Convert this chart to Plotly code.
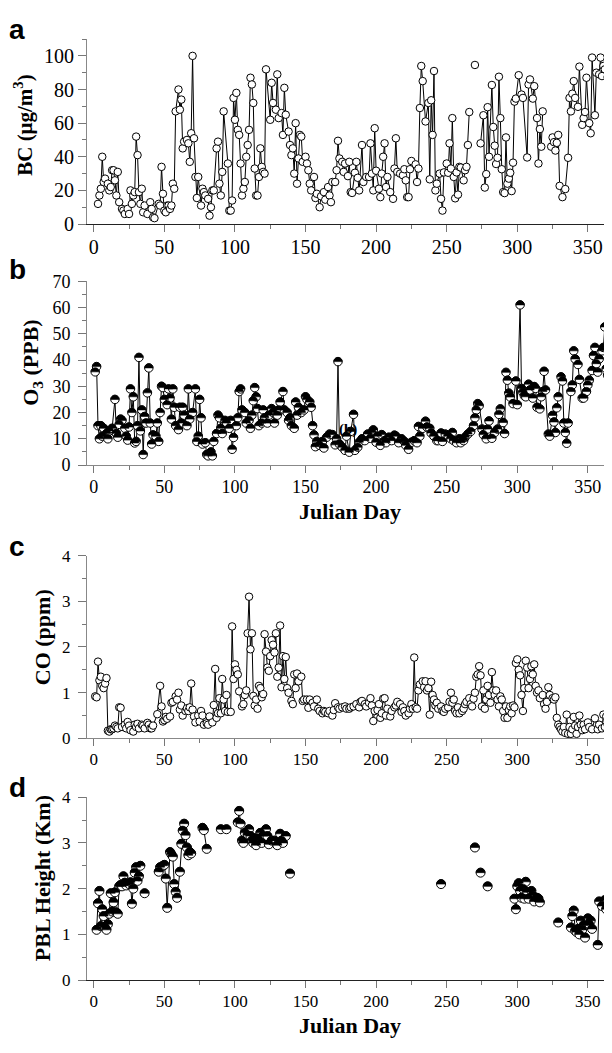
import plotly.graph_objects as go

# ---------------- data ----------------
# None entries mark breaks in the connecting line
bc_day = [3, 4, 5, 6, 7, 8, 10, 11, 12, 13, 14, 15, 16, 17, 18, 20, 21, 22, 24, 25,
          26, 27, 28, 29, 30, 31, 32, 33, 34, 35, 36, 38, 40, 41, 42, 43, 46, 47, 48, 49,
          50, 51, 52, 53, 54, 55, 56, 57, 58, 60, 61, 62, 63, 64, 66, 67, 68, 69, 70, 71,
          72, 73, 74, 76, 77, 78, 79, 81, 82, 83, 84, 85, 87, 88, 89, 90, 91, 92, 95, 96,
          97, 98, 99, 100, 101, 102, 103, 104, 105, 106, 107, 108, 109, 110, 111, 112, 113, 114, 115, 116,
          117, 118, 119, 120, 121, 122, 125, 126, 127, 129, 130, 131, 133, 134, 135, 136, 138, 139, 140, 141,
          142, 143, 144, 145, 146, 147, 148, 150, 151, 152, 153, 154, 156, 157, 158, 160, 161, 163, 164, 166,
          167, 168, 169, 171, 172, 173, 174, 176, 177, 178, 180, 181, 182, 183, 185, 186, 187, 188, 190, 191,
          193, 195, 196, 197, 198, 199, 200, 202, 203, 204, 205, 206, 207, 208, 210, 212, 213, 214, 215, 217,
          219, 220, 221, 222, 223, 224, 225, 228, 229, 230, 231, 232, 233, 235, 237, 238, 239, 240, 241, 242,
          243, 245, 246, 247, 248, 250, 251, 252, 253, 254, 255, 256, 257, 258, 259, 260, 262, 263, 264, 265,
          266, None, 270, None, 274, 276, 277, 278, 279, 280, 282, 283, 284, 285, 286, 287, 288, 289, 290, 291,
          292, 293, 294, 295, 296, 297, 298, 299, 301, 303, 304, 307, 308, 309, 311, 312, 314, 315, 316, 317,
          318, None, 324, 325, 326, 327, 328, 329, 330, 332, 334, 336, 337, 338, 339, 340, 341, 343, 344, 346,
          347, 348, 349, 351, 352, 353, 355, 356, 358, 359, 360, 361, 362, 364, 365]
bc_val = [12, 17, 21, 40, 25, 27, 24, 20, 22, 32, 32, 26, 17, 31, 13, 9, 8, 6, 9, 6,
          20, 12, 17, 19, 52, 41, 19, 12, 21, 7, 11, 6, 13, 9, 4, 3.5, 12, 11, 34, 18,
          8, 7, 11, 11, 9, 11, 24, 21, 67, 80, 68, 74, 45, 49, 50, 48, 37, 54, 100, 51,
          28, 15.5, 28, 11, 21, 19, 17, 15, 5, 10, 20, 20, 45, 49, 24, 17, 31, 67, 36, 8,
          8, 14, 75, 62, 78, 56, 53, 36, 17, 21, 25, 40, 47, 56, 87, 83, 72, 33, 17, 17,
          28, 45, 34, 31, 30, 92, 62, 84, 72, 68, 89, 63, 66, 53, 81, 65, 55, 47, 41, 45,
          30, 60, 24, 39, 53, 52, 37, 40, 36, 32, 24, 20, 28, 15.5, 18, 10, 16.5, 19, 14.5, 22,
          17, 13, 25, 25, 32, 49.5, 39, 37, 31, 36, 28.5, 37, 19, 18.5, 30.5, 37, 27.5, 20, 47, 25,
          28, 28, 48, 30, 20, 57, 31.7, 21, 16, 30, 40, 48, 22, 28, 19, 15, 33, 51, 31, 30,
          29, 32.6, 26, 16, 16, 32.6, 37.5, 35.5, 25, 33, 69, 94, 85, 61, 72, 26.6, 73.6, 53, 91, 20,
          24, 30, 15, 8, 30.7, 36, 30.5, 48, 33, 63, 28, 15.3, 30.7, 17.5, 34, 33.6, 26, 32, 34, 47,
          66.6, None, 94.6, None, 48, 64.7, 21.7, 29.7, 69.5, 40, 82.7, 57.7, 46.6, 35.7, 39.4, 87.6, 63, 32.6, 19, 18.4,
          51.5, 24, 27, 30.5, 19.6, 36.5, 72.8, 74.6, 88.5, 77, 75, 39.6, 83, 86, 74.6, 82, 63, 36, 56.5, 46,
          67, None, 46, 51.5, 48.7, 43.7, 48.3, 53, 22.7, 16, 20.8, 39.4, 75, 67, 77.5, 85, 75, 69.7, 93.6, 59,
          63, 66.6, 87, 60, 54, 99, 64.7, 90, 89, 99, 88, 94, 92, 87.4, 94]

o3_day = [1, 2, 3, 4, 5, 6, 7, 9, 10, 11, 13, 15, 16, 17, 18, 19, 20, 22, 23, 24,
          25, 26, 27, 28, 29, 30, 31, 32, 33, 34, 35, 36, 37, 38, 39, 40, 41, 42, 44, 45,
          46, 47, 48, 49, 50, 52, 53, 54, 55, 56, 57, 58, 60, 61, 62, 63, 64, 66, 67, 68,
          70, 72, 73, 74, 75, 76, 77, 79, 80, 81, 83, 84, 85, 87, 88, 89, 90, 91, 93, 94,
          96, 97, 98, 99, 101, 102, 103, 104, 105, 107, 108, 110, 111, 112, 113, 114, 115, 116, 117, 119,
          120, 121, 123, 124, 126, 127, 128, 130, 131, 132, 134, 135, 137, 138, 139, 140, 142, 143, 144, 145,
          147, 149, 150, 151, 153, 154, 155, 156, 157, 158, 160, 162, 163, 165, 167, 169, 171, 172, 173, 174,
          176, 178, 179, 181, 182, 184, 185, 187, 188, 190, 192, 194, 196, 197, 198, 200, 201, 203, 204, 206,
          207, 209, 211, 213, 214, 216, 218, 220, 221, 223, 225, 227, 229, 230, 231, 233, 235, 236, 238, 239,
          241, 243, 244, 246, 247, 249, 251, 253, 254, 255, 257, 259, 260, 262, 263, 265, 267, 269, 270, 271,
          272, 273, 275, 276, 278, 279, 280, 282, 284, 286, 287, 288, 290, 291, 292, 293, 294, 295, 297, 299,
          300, 302, 303, 304, 305, 306, 308, 309, 311, 312, 313, 314, 316, 317, 318, 319, 320, 322, 323, 325,
          326, 327, 328, 329, 331, 332, 333, 334, 335, 336, 338, 339, 340, 341, 343, 344, 346, 347, 349, 350,
          351, 353, 354, 355, 356, 357, 358, 360, 361, 362, 363, 364, 365]
o3_val = [35.5, 37.5, 15, 10, 15, 11, 14, 12, 10, 13, 14, 25, 12, 10.6, 15.5, 17.5, 17, 14, 11, 9.5,
          14.5, 29, 20, 26, 8.4, 9, 15, 41, 13, 21, 4, 18.5, 16, 27.5, 37, 16, 8, 11.5, 11, 16,
          9, 20, 30, 29.5, 25, 23, 29, 25.5, 17.5, 29, 22, 15, 13.5, 22, 16, 22, 19, 15, 29, 17.5,
          20, 29, 9, 11, 25, 18, 8, 8.5, 4, 3.5, 5, 3.5, 9, 12, 19, 18, 14, 12, 17, 16,
          14, 17, 6, 10.5, 15, 18, 28, 29, 21, 20, 16, 17, 14, 19, 24.5, 29.5, 26, 21.5, 15, 16,
          21, 18, 16, 19, 21.5, 20, 16, 19, 21, 24, 28, 21, 20, 17, 18, 15, 14, 24, 19, 22,
          20, 21, 26, 25, 24, 22, 15, 11.5, 7, 9, 7.5, 9, 6.5, 10.6, 11.8, 11.6, 7.7, 10, 39.4, 8,
          6.8, 5.6, 11, 4.9, 12.8, 19.3, 5.6, 6.8, 8.7, 10, 9.3, 11.8, 10.2, 12.4, 13.4, 8.7, 11, 7.5, 11.6, 9.3,
          8.5, 10.6, 9.3, 11.4, 11, 8.5, 10, 9, 7.5, 6, 8.7, 9.3, 8.5, 14.7, 11, 14, 16.7, 14.5, 14, 12.2,
          11, 9.3, 9.3, 12.2, 9, 11.8, 11, 10, 12.4, 9.3, 8.5, 10, 8.5, 9.3, 10.6, 11.8, 12.8, 15, 18, 21,
          23.4, 22.6, 13.7, 11.6, 10, 13.7, 16.8, 10.2, 12.4, 13.7, 19.3, 21.4, 16.2, 12, 35.3, 32.3, 27.4, 25.9, 23.4, 32,
          23, 61, 29.2, 27.7, 26.4, 26, 30.8, 28.6, 25.5, 29.9, 29.2, 22, 21.4, 26, 28, 35.7, 28.6, 11.8, 11, 18.9,
          16.4, 12.4, 21.8, 26, 33.6, 32, 16, 12.4, 8.3, 16, 28, 30.5, 43.5, 40.4, 38.3, 32.6, 25.5, 25.5, 28, 30.5,
          32.3, 36, 41.7, 44.8, 38.6, 35.4, 40.4, 43.5, 44.8, 52.6, 36.7, 34.2, 40]

co_day = [1, 2, 3, 4, 5, 6, 7, 8, 9, 10, 11, 12, 13, 14, 15, 16, 17, 18, 19, 20,
          22, 23, 24, 25, 26, 28, 29, 30, 31, 32, 34, 35, 36, 38, 39, 40, 41, 42, 45, 47,
          48, 49, 50, 51, 52, 54, 55, 56, 58, 59, 60, 61, 62, 63, 65, 66, 67, 68, 69, 70,
          71, 72, 74, 75, 76, 77, 78, 80, 81, 82, 84, 85, 86, 87, 88, 89, 90, 91, 92, 93,
          94, 95, 97, 98, 99, 100, 101, 102, 103, 105, 106, 107, 108, 109, 110, 111, 112, 113, 114, 115,
          116, 117, 118, 119, 120, 121, 122, 123, 124, 125, 126, 127, 128, 129, 130, 131, 132, 133, 134, 135,
          136, 137, 138, 140, 141, 142, 143, 144, 145, 147, 148, 149, 151, 152, 153, 155, 156, 158, 159, 160,
          162, 163, 164, 166, 167, 169, 170, 171, 173, 174, 176, 178, 179, 181, 182, 184, 186, 188, 189, 190,
          192, 193, 195, 196, 197, 198, 199, 201, 202, 203, 204, 205, 206, 207, 208, 210, 211, 213, 214, 215,
          217, 218, 219, 220, 221, 223, 224, 225, 226, 227, 228, 229, 230, 231, 233, 234, 235, 236, 237, 238,
          239, 240, 241, 242, 243, 244, 246, 247, 248, 249, 251, 252, 253, 254, 255, 256, 257, 258, 259, 261,
          262, 263, 264, 266, 267, 268, 269, 270, 271, 272, 273, 274, 275, 276, 277, 278, 279, 280, 281, 282,
          283, 284, 285, 286, 287, 288, 289, 290, 291, 292, 293, 294, 295, 296, 297, 298, 299, 300, 301, 302,
          303, 304, 305, 306, 307, 308, 309, 310, 311, 312, 313, 314, 315, 316, 318, 319, 320, 321, 322, 323,
          325, 326, 327, 328, 329, 330, 331, 332, 333, 334, 335, 336, 337, 338, 339, 340, 341, 342, 343, 344,
          345, 346, 347, 348, 350, 351, 353, 355, 357, 358, 360, 361, 362, 363, 364, 365, 366]
co_val = [0.92, 0.9, 1.68, 1.27, 1.35, 1.15, 1.1, 1.2, 1.32, 0.17, 0.15, 0.2, 0.2, 0.22, 0.28, 0.25, 0.22, 0.68, 0.67, 0.25,
          0.3, 0.22, 0.36, 0.28, 0.18, 0.15, 0.3, 0.25, 0.32, 0.22, 0.3, 0.28, 0.22, 0.34, 0.3, 0.22, 0.22, 0.28, 0.53, 1.15,
          0.7, 0.37, 0.4, 0.47, 0.43, 0.48, 0.78, 0.8, 0.92, 0.85, 1.0, 0.63, 0.72, 0.5, 0.6, 0.66, 0.6, 0.68, 1.2, 0.63,
          0.48, 0.35, 0.5, 0.37, 0.6, 0.5, 0.3, 0.33, 0.3, 0.48, 0.35, 0.73, 1.52, 0.45, 0.55, 0.88, 0.55, 1.3, 0.85, 0.6,
          0.95, 0.58, 0.58, 2.45, 1.3, 1.62, 1.5, 1.4, 1.03, 0.7, 0.75, 0.95, 1.05, 2.3, 3.1, 1.95, 2.3, 0.93, 0.72, 0.85,
          0.65, 1.15, 1.1, 0.9, 0.97, 2.28, 1.9, 1.55, 1.48, 1.8, 2.15, 2.05, 1.88, 2.3, 1.35, 1.55, 2.47, 1.12, 1.8, 1.3,
          1.78, 1.1, 1.0, 0.82, 0.75, 1.4, 1.1, 1.42, 1.25, 1.35, 0.82, 0.85, 0.85, 0.67, 0.85, 0.78, 0.7, 0.85, 0.65, 0.6,
          0.55, 0.6, 0.58, 0.55, 0.6, 0.5, 0.62, 0.77, 0.68, 0.65, 0.68, 0.7, 0.65, 0.65, 0.68, 0.7, 0.75, 0.68, 0.8, 0.82,
          0.75, 0.7, 0.78, 0.88, 0.72, 0.38, 0.6, 0.62, 0.75, 0.45, 0.55, 0.87, 0.88, 0.5, 0.65, 0.48, 0.6, 0.68, 0.72, 0.8,
          0.75, 0.58, 0.68, 0.6, 0.5, 0.55, 0.65, 0.75, 0.65, 1.77, 0.68, 0.65, 1.05, 1.18, 1.25, 1.12, 1.25, 1.05, 1.1, 0.52,
          1.24, 0.95, 0.85, 0.72, 0.78, 0.65, 0.7, 0.6, 0.58, 0.65, 0.68, 0.8, 1.0, 0.78, 0.85, 0.6, 0.55, 0.68, 0.55, 0.6,
          0.65, 0.75, 0.8, 0.88, 0.75, 0.7, 0.87, 1.0, 1.35, 1.4, 1.58, 1.38, 0.7, 1.05, 0.65, 0.85, 1.15, 0.95, 0.78, 1.45,
          1.05, 0.95, 1.05, 0.85, 0.7, 0.92, 0.85, 0.6, 0.45, 0.7, 0.45, 0.62, 0.7, 0.55, 0.72, 0.68, 1.65, 1.73, 1.5, 1.38,
          0.95, 0.6, 1.1, 1.7, 1.55, 1.1, 1.3, 1.58, 1.4, 1.62, 1.15, 1.0, 1.05, 0.88, 0.95, 0.75, 0.65, 0.8, 1.12, 0.95,
          0.88, 0.85, 0.9, 0.45, 0.3, 0.25, 0.2, 0.15, 0.25, 0.12, 0.52, 0.1, 0.25, 0.1, 0.2, 0.47, 0.28, 0.1, 0.25, 0.5,
          0.3, 0.18, 0.3, 0.2, 0.35, 0.25, 0.2, 0.44, 0.2, 0.3, 0.22, 0.52, 0.25, 0.48, 0.3, 0.12, 0.65]

pbl_day = [2, 3, 4, 5, 6, 7, 8, 9, 10, 11, 12, 13, 14, 15, 16, 17, 18, 19, 20, 21,
           22, 23, 25, 26, 27, 28, 29, 30, 31, 32, 33, None, 36, None,
           46, 47, 49, 50, 51, 52, 54, 55, 56, 57, 58, 59, 61, 62, 63, 64, 65, 66, 67, 68, 69, None,
           77, 78, 80, None, 90, 94, None,
           102, 103, 104, 105, 106, 107, 109, 110, 111, 112, 113, 114, 115, 116, 117, 118, 119, 120, 122, 123,
           124, 126, 128, 130, 132, 133, 134, 136, None, 139, None, 246, None, 270, None, 274, None, 279, None,
           298, 299, 300, 301, 302, 303, 304, 305, 306, 307, 308, 310, 311, 312, 314, 315, 316, None, 329, None,
           338, 339, 340, 341, 342, 343, 344, 345, 346, 347, 348, 349, 350, 351, 352, 353, None,
           357, 358, 360, 362, 363, 364, 366]
pbl_val = [1.1, 1.68, 1.95, 1.18, 1.55, 1.4, 1.15, 1.1, 1.22, 1.45, 1.9, 1.5, 1.7, 1.92, 1.48, 1.45, 2.05, 2.08, 2.05, 2.27,
           2.13, 2.07, 2.1, 2.14, 1.67, 2.0, 2.35, 2.47, 2.17, 2.27, 2.5, None, 1.9, None,
           2.37, 2.47, 2.5, 2.52, 2.22, 1.58, 2.8, 2.75, 2.7, 2.1, 1.93, 1.8, 2.37, 2.98, 3.27, 3.42, 3.17, 2.9, 2.73, 2.8, 2.77, None,
           3.33, 3.28, 2.87, None, 3.3, 3.3, None,
           3.45, 3.7, 3.42, 3.05, 3.0, 3.22, 3.17, 3.3, 3.15, 3.05, 3.0, 3.1, 2.95, 3.1, 3.05, 3.22, 3.0, 3.15, 3.3, 3.15,
           2.97, 3.05, 3.05, 2.95, 3.2, 3.05, 3.0, 3.15, None, 2.33, None, 2.1, None, 2.9, None, 2.35, None, 2.05, None,
           1.78, 1.55, 2.05, 2.12, 1.95, 1.8, 2.0, 1.78, 2.15, 1.92, 1.78, 1.95, 1.85, 1.72, 1.8, 1.78, 1.7, None, 1.26, None,
           1.15, 1.4, 1.52, 1.08, 1.05, 1.12, 1.0, 1.3, 1.1, 1.2, 0.93, 1.2, 1.35, 1.22, 1.3, 1.12, None,
           0.77, 1.72, 1.62, 1.75, 1.55, 1.65, 1.85]

x_ticks = [0, 50, 100, 150, 200, 250, 300, 350]

# ---------------- figure ----------------
# The page body keeps its default 8px margin: the figure starts 8px in from the
# window's top-left corner and is sized so that the page never scrolls.
OFF = 8
W, H = 612 - OFF, 1053 - 2 * OFF
SERIF = "Liberation Serif"
SANS = "Liberation Sans"
X_RANGE = [-4.8, 367.1]
XDOM = [(87 - OFF) / W, 1.0]


def fx(px):
    return (px - OFF) / W


def fy(px):
    return 1 - (px - OFF) / H


panels = [
    # (xaxis, yaxis, top px, bottom px, y range, dtick, minor, tick font, xline color, y label standoff)
    ("x", "y", 29.5, 218.3, [0, 110], 20, 10, 20, "#222", 0),
    ("x2", "y2", 276.7, 464.3, [0, 70], 10, 5, 18, "#888", 4),
    ("x3", "y3", 556.7, 743.3, [0, 4], 1, 0.5, 17, "#888", 4),
    ("x4", "y4", 803.3, 990.0, [0, 4], 1, 0.5, 17, "#222", 4),
]

fig = go.Figure()

series = [
    (bc_day, bc_val, "x", "y", 7.5),
    (o3_day, o3_val, "x2", "y2", 8.5),
    (co_day, co_val, "x3", "y3", 7.5),
    (pbl_day, pbl_val, "x4", "y4", 9),
]
for xs, ys, xa, ya, sz in series:
    fig.add_trace(go.Scatter(
        x=xs, y=ys, xaxis=xa, yaxis=ya, mode="lines+markers",
        connectgaps=False, showlegend=False, hoverinfo="skip",
        line=dict(color="black", width=1),
        marker=dict(symbol="circle", size=sz, color="white",
                    line=dict(color="black", width=1)),
    ))

# black upper halves for the half-filled markers of panels b and d
shapes = []


def half_caps(xs, ys, xa, ya, r):
    k = round(0.5523 * r, 3)
    path = (f"M{-r},0 C{-r},{k} {-k},{r} 0,{r} "
            f"C{k},{r} {r},{k} {r},0 Z")
    for x, y in zip(xs, ys):
        if x is None or y is None:
            continue
        shapes.append(dict(type="path", xref=xa, yref=ya,
                           xsizemode="pixel", ysizemode="pixel",
                           xanchor=x, yanchor=y, path=path,
                           fillcolor="black", line=dict(color="black", width=0.6),
                           layer="above"))


half_caps(o3_day, o3_val, "x2", "y2", 4.2)
half_caps(pbl_day, pbl_val, "x4", "y4", 4.5)

layout = dict(
    width=W, height=H, margin=dict(l=0, r=0, t=0, b=0),
    paper_bgcolor="white", plot_bgcolor="white",
    shapes=shapes, showlegend=False,
)

for xa, ya, top, bot, yr, dt, mdt, fs, xcol, ystand in panels:
    xkey = "xaxis" if xa == "x" else "xaxis" + xa[1:]
    ykey = "yaxis" if ya == "y" else "yaxis" + ya[1:]
    layout[xkey] = dict(
        domain=XDOM, anchor=ya, range=X_RANGE,
        tickmode="array", tickvals=x_ticks, ticktext=[str(v) for v in x_ticks],
        ticks="outside", ticklen=7, tickwidth=1, tickcolor="#777",
        showline=True, linecolor=xcol, linewidth=1,
        showgrid=False, zeroline=False, ticklabelstandoff=-2,
        tickfont=dict(family=SERIF, size=fs, color="black"),
        minor=dict(tickmode="linear", tick0=0, dtick=25, ticks="outside",
                   ticklen=4, tickcolor="#777", tickwidth=1, showgrid=False),
    )
    layout[ykey] = dict(
        domain=[fy(bot), fy(top)], anchor=xa, range=yr,
        tickmode="linear", tick0=0, dtick=dt,
        ticks="outside", ticklen=8, tickwidth=1, tickcolor="#777",
        showline=True, linecolor="#888", linewidth=1,
        showgrid=False, zeroline=False, ticklabelstandoff=ystand,
        tickfont=dict(family=SERIF, size=fs, color="black"),
        minor=dict(tickmode="linear", tick0=0, dtick=mdt, ticks="outside",
                   ticklen=4, tickcolor="#777", tickwidth=1, showgrid=False),
    )

fig.update_layout(**layout)

ann = []
# panel letters
for letter, ypx in [("a", 20), ("b", 265), ("c", 547), ("d", 793)]:
    ann.append(dict(text=f"<b>{letter}</b>", x=fx(17), y=fy(ypx), xref="paper", yref="paper",
                    xanchor="center", yanchor="middle", showarrow=False,
                    font=dict(family=SANS, size=28, color="black")))
# y-axis titles
for txt, xpx, ypx, fs in [("BC (μg/m<sup>3</sup>)", 24, 117, 21),
                           ("O<sub>3</sub> (PPB)", 32, 360, 22),
                           ("CO (ppm)", 42, 640, 22),
                           ("PBL Height (Km)", 42, 886, 22)]:
    ann.append(dict(text=f"<b>{txt}</b>", x=fx(xpx), y=fy(ypx), xref="paper", yref="paper",
                    xanchor="center", yanchor="middle", textangle=-90, showarrow=False,
                    font=dict(family=SERIF, size=fs, color="black")))
# x-axis titles
for ypx in [511.7, 1036.0]:
    ann.append(dict(text="<b>Julian Day</b>", x=fx(350), y=fy(ypx), xref="paper", yref="paper",
                    xanchor="center", yanchor="middle", showarrow=False,
                    font=dict(family=SERIF, size=22, color="black")))
# in-plot label
ann.append(dict(text="<b>(b)</b>", x=180, y=13.5, xref="x2", yref="y2",
                xanchor="center", yanchor="middle", showarrow=False,
                font=dict(family=SERIF, size=15, color="black")))

fig.update_layout(annotations=ann)

fig.write_html("out.html")
